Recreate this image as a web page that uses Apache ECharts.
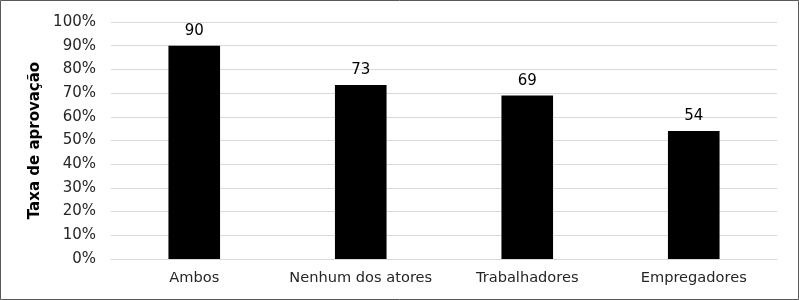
<!DOCTYPE html>
<html><head><meta charset="utf-8">
<script src="https://cdn.jsdelivr.net/npm/echarts@6/dist/echarts.min.js"></script>
<style>html,body{margin:0;padding:0;background:#fff}#c{width:799px;height:300px}</style>
</head><body><div id="c"></div>
<script>
const categories = ['Ambos', 'Nenhum dos atores', 'Trabalhadores', 'Empregadores'];
const values = [90, 73.4, 69, 54];
const labels = ['90', '73', '69', '54'];
const yTicks = [0, 10, 20, 30, 40, 50, 60, 70, 80, 90, 100];

const chart = echarts.init(document.getElementById('c'));
const font = 'DejaVu Sans, Verdana, sans-serif';
chart.setOption({
  animation: false,
  graphic: [{type: 'rect', shape: {x: 0.5, y: 0.5, width: 798, height: 299}, style: {fill: 'none', stroke: '#595959', lineWidth: 1}}],
  grid: {left: 111, right: 22, top: 22, bottom: 41},
  xAxis: {
    type: 'category', data: categories,
    axisLine: {show: true, lineStyle: {color: '#d9d9d9', width: 1}},
    axisTick: {show: false},
    axisLabel: {color: '#262626', fontSize: 14.6, fontFamily: font, margin: 12, interval: 0}
  },
  yAxis: {
    type: 'value', min: 0, max: 100, interval: 10,
    name: 'Taxa de aprovação', nameLocation: 'middle', nameGap: 66,
    nameTextStyle: {color: '#000', fontSize: 15, fontWeight: 'bold', fontFamily: font},
    axisLine: {show: false}, axisTick: {show: false},
    axisLabel: {color: '#262626', fontSize: 15, fontFamily: font, margin: 15, formatter: v => yTicks.includes(v) ? v + '%' : ''},
    splitLine: {lineStyle: {color: '#d9d9d9', width: 1}}
  },
  series: [{
    type: 'bar', data: values, barWidth: '31%',
    itemStyle: {color: '#000'},
    label: {show: true, position: 'top', distance: 7, color: '#000', fontSize: 15, fontFamily: font,
      formatter: p => labels[p.dataIndex]}
  }]
});
</script></body></html>
